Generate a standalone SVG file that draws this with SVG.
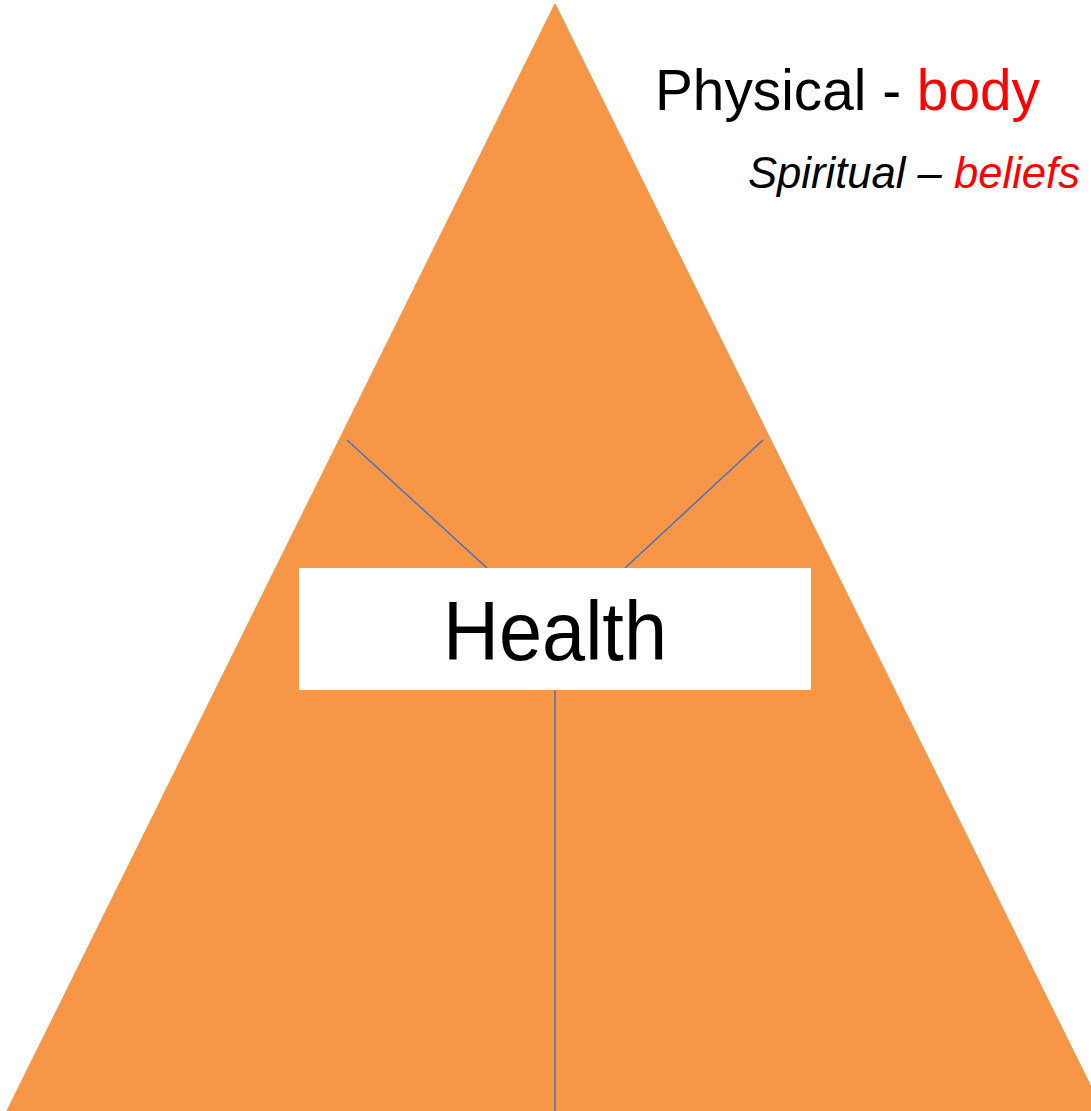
<svg xmlns="http://www.w3.org/2000/svg" width="1091" height="1111" viewBox="0 0 1091 1111">
  <style>
    .conn { stroke: #4472C4; stroke-width: 1.5; fill: none; }
    .txt { font-family: "Liberation Sans", Arial, sans-serif; }
    .red { fill: #FF0000; }
  </style>
  <rect width="1091" height="1111" fill="#FFFFFF"/>
  <g id="pyramid">
    <polygon points="555,5 7.5,1111 1102.5,1111" fill="#F79646" stroke="#F79646" stroke-width="2" stroke-linejoin="round"/>
  </g>
  <g id="connectors">
    <line class="conn" x1="347" y1="440" x2="487" y2="568"/>
    <line class="conn" x1="763" y1="440" x2="625" y2="568"/>
    <line class="conn" x1="555" y1="690" x2="555" y2="1111"/>
  </g>
  <g id="health">
    <rect x="299" y="568" width="512" height="122" fill="#FFFFFF"/>
    <text class="txt" x="555" y="660" font-size="84" text-anchor="middle" textLength="224" lengthAdjust="spacingAndGlyphs" fill="#000000">Health</text>
  </g>
  <g id="label-physical">
    <text class="txt" x="655" y="110" font-size="58" textLength="385" lengthAdjust="spacingAndGlyphs" fill="#000000">Physical - <tspan class="red">body</tspan></text>
  </g>
  <g id="label-spiritual">
    <text class="txt" x="748" y="188" font-size="44" font-style="italic" textLength="332" lengthAdjust="spacingAndGlyphs" fill="#000000">Spiritual – <tspan class="red">beliefs</tspan></text>
  </g>
</svg>
